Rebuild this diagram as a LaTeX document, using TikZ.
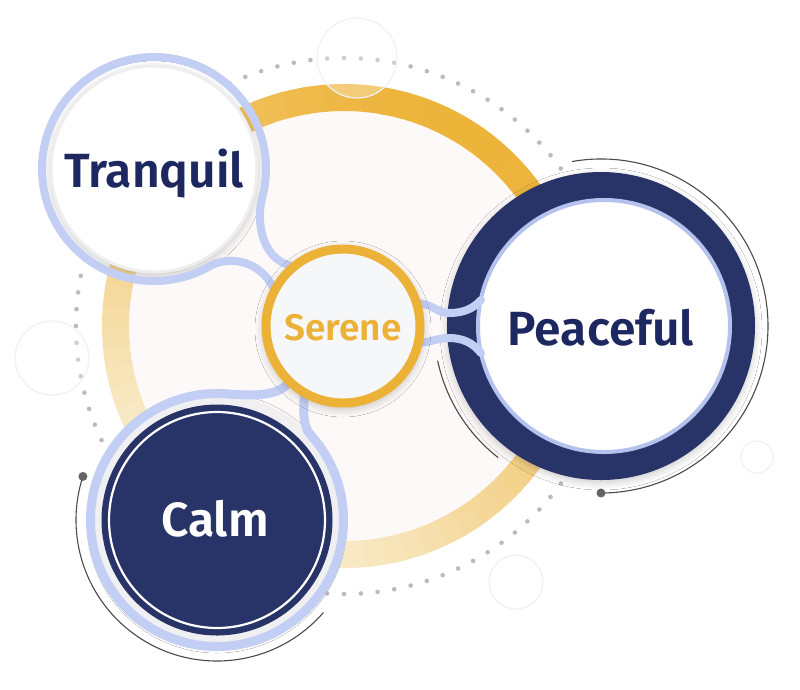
\documentclass[tikz,border=0pt]{standalone}
\usepackage{fontspec}
\setmainfont{Fira Sans}[BoldFont={Fira Sans SemiBold}]
\usetikzlibrary{calc,shadows.blur}
\definecolor{navy}{HTML}{283367}
\definecolor{navytext}{HTML}{1D2861}
\definecolor{gold}{HTML}{EDB43A}
\definecolor{goldpale}{HTML}{FAF1DC}
\definecolor{serenegold}{HTML}{ECB137}
\definecolor{bridgeblue}{HTML}{C3CEF5}
\definecolor{innerblue}{HTML}{B6C2EE}
\definecolor{dotgray}{HTML}{BBBBBB}
\definecolor{arcgray}{HTML}{4A4A4A}
\definecolor{pinkfill}{HTML}{FDF9F8}
\definecolor{serenefill}{HTML}{F6F7F8}
\definecolor{bandgray}{HTML}{F0F0F2}
\definecolor{decoline}{HTML}{EDF3F5}
\begin{document}
\begin{tikzpicture}[x=1pt,y=-1pt,
  bridgeline/.style={bridgeblue, line width=8, line cap=round},
  thinarc/.style={arcgray, line width=1.1},
  arcdot/.style={fill=arcgray!85},
  softshadow/.style={blur shadow={shadow xshift=0pt, shadow yshift=-3pt, shadow blur radius=7pt, shadow opacity=20}},
  bigword/.style={font=\bfseries\fontsize{48}{48}\selectfont, anchor=base, inner sep=0pt},
  decocircle/.style={fill=white, fill opacity=0.3, draw=decoline, line width=1.2}]
\useasboundingbox (0,0) rectangle (800,689);
\fill[white] (0,0) rectangle (800,689);

\coordinate (G) at (344,326);
\coordinate (S) at (343,326);
\coordinate (T) at (154,169);
\coordinate (C) at (217,520);
\coordinate (P) at (601,326);
\coordinate (Pin) at (604,326);

% dotted orbit
\foreach \a in {0,3.6,...,356.4}
  \fill[dotgray] ($(G)+(\a:268)$) circle (2.3);

% pale inner disk
\fill[pinkfill] (G) circle (215);

% gold ring with gradient
\foreach \a in {0,5,...,355}{
  \pgfmathsetmacro\p{100*((1+cos(\a+60))/2+0.001)^0.8}
  \draw[line width=27, color=gold!\p!goldpale] ($(G)+(\a:228.5)$) arc[start angle=\a, end angle=\a+5.6, radius=228.5];
}

% decorative faint circles
\draw[decocircle] (357,58) circle (40);
\draw[decocircle] (52,358) circle (37);
\draw[decocircle] (516,582) circle (27);
\draw[decocircle] (757,457) circle (16);

% thin gray arcs
\draw[thinarc] ($(P)+(-100:167)$) arc[start angle=-100, end angle=90, radius=167];
\coordinate (Pdot) at ($(P)+(90:167)$);
\fill[arcdot] (Pdot) circle (4.5);
\draw[thinarc] ($(P)+(128:167)$) arc[start angle=128, end angle=168, radius=167];
\draw[thinarc] ($(C)+(41:141)$) arc[start angle=41, end angle=198, radius=141];
\coordinate (Cdot) at ($(C)+(198:141)$);
\fill[arcdot] (Cdot) circle (4.5);

% ---------- Tranquil ----------
\fill[white, softshadow] (T) circle (104);
\draw[gray!13, line width=3] (T) circle (103);
\coordinate (Tu) at ($(T)+(16:112)$);
\coordinate (Tl) at ($(T)+(60:112)$);
\draw[bridgeline] (Tl) arc[start angle=60, end angle=376, radius=112];
\coordinate (S1) at (292,266);
\coordinate (S2) at (275,291);
\draw[bridgeline] (Tu) .. controls (257.6,216) and (258,258) .. (S1);
\draw[bridgeline] (Tl) .. controls (224,258) and (258,255) .. (S2);

% ---------- Calm ----------
\fill[bandgray, softshadow] (C) circle (123);
\coordinate (Cr) at ($(C)+(-42:126.5)$);
\coordinate (Cu) at ($(C)+(275:126.5)$);
\draw[bridgeline, line width=9] (Cr) arc[start angle=-42, end angle=275, radius=126.5];
\fill[navy] (C) circle (115.5);
\draw[white, line width=2.2] (C) circle (108);
\coordinate (S3) at (290,381);
\coordinate (S4) at (304.5,393);
\draw[bridgeline, line width=9] (Cu) .. controls (256,396) and (280,396) .. (S3);
\draw[bridgeline, line width=9] (S4) .. controls (303,412) and (303,427) .. (Cr);

% ---------- Peaceful ----------
\fill[navy, softshadow] (P) circle (154);
\fill[white] (Pin) circle (126);
\draw[innerblue, line width=4] (Pin) circle (126);
\coordinate (S5) at (417,303);
\coordinate (S6) at (417,343);
\coordinate (Pu) at (481,300);
\coordinate (Pl) at (481,353);
\draw[bridgeline] (S5) .. controls (433,304) and (437,313) .. (449,313) .. controls (463,313) and (473,309) .. (Pu);
\draw[bridgeline] (S6) .. controls (433,342) and (437,338) .. (449,338) .. controls (463,338) and (473,343) .. (Pl);

% ---------- Serene ----------
\fill[serenefill, softshadow] (S) circle (81);
\draw[serenegold, line width=9, fill=serenefill] (S) circle (77);

% ---------- labels ----------
\node[bigword, text=navytext] (tranquil) at (154,187) {Tranquil};
\node[bigword, text=navytext] (peaceful) at (601,345) {Peaceful};
\node[bigword, text=white] (calm) at (215,536) {Calm};
\node[bigword, text=serenegold, font=\bfseries\fontsize{37}{37}\selectfont] (serene) at (343,340) {Serene};
\end{tikzpicture}
\end{document}
